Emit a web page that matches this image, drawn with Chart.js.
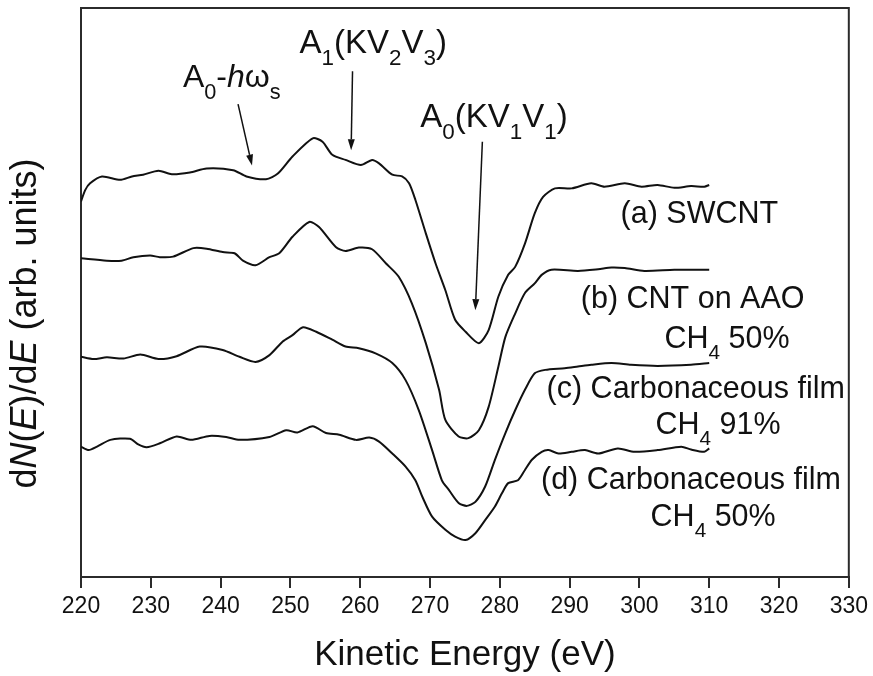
<!DOCTYPE html>
<html>
<head>
<meta charset="utf-8">
<script src="https://cdn.jsdelivr.net/npm/chart.js@4.4.1/dist/chart.umd.min.js"></script>
<style>
  html, body { margin: 0; padding: 0; background: #fff; }
  canvas { display: block; }
</style>
</head>
<body>
<canvas id="myChart" width="873" height="676"></canvas>
<script>
// spectra (kinetic energy in eV, dN/dE in arb. units, curves offset)
const energyA = [220.0, 220.6, 221.3, 223.0, 225.6, 227.3, 228.9, 231.1, 233.0, 235.6, 238.0, 241.8, 243.7, 246.5, 248.2, 250.3, 253.2, 254.6, 256.0, 257.9, 260.1, 261.7, 262.7, 264.6, 266.0, 267.0, 267.9, 269.4, 270.8, 272.2, 273.6, 275.1, 277.0, 278.4, 279.8, 281.2, 282.2, 283.6, 285.0, 286.2, 287.9, 290.3, 293.1, 295.0, 297.9, 300.3, 302.6, 305.0, 307.4, 309.3, 310.0];
const signalA = [66.0, 68.0, 69.2, 70.4, 69.8, 70.4, 70.7, 71.4, 70.8, 71.1, 71.8, 71.5, 70.4, 69.9, 70.9, 73.9, 77.1, 76.5, 74.2, 73.3, 72.4, 73.3, 72.7, 70.7, 70.4, 69.2, 66.3, 60.4, 55.1, 50.4, 45.2, 43.1, 41.1, 43.4, 49.3, 53.1, 54.5, 58.6, 63.9, 66.8, 68.3, 68.3, 69.2, 68.6, 69.2, 68.6, 68.9, 68.4, 68.7, 68.6, 68.9];

const energyB = [220.0, 223.7, 225.8, 227.5, 229.9, 231.3, 233.2, 236.1, 238.0, 240.3, 242.0, 243.2, 245.0, 247.0, 248.4, 250.3, 252.7, 254.1, 256.5, 257.9, 259.8, 261.7, 263.7, 265.5, 267.4, 269.4, 271.3, 272.2, 274.1, 275.5, 277.0, 278.4, 279.8, 280.8, 282.2, 283.6, 285.0, 286.0, 287.4, 291.2, 294.1, 296.0, 297.9, 300.7, 305.0, 310.0];
const signalB = [56.0, 55.6, 55.6, 56.2, 56.5, 56.2, 56.3, 57.8, 57.7, 57.1, 56.9, 55.6, 54.8, 56.2, 56.9, 59.8, 62.4, 61.5, 58.0, 57.3, 57.9, 57.6, 55.1, 52.8, 48.1, 41.1, 32.9, 27.6, 24.7, 24.4, 25.8, 29.9, 37.0, 42.2, 46.3, 49.9, 51.6, 53.1, 54.0, 53.8, 54.1, 54.4, 54.3, 53.8, 54.0, 54.0];

const energyC = [220.0, 221.8, 223.7, 226.1, 228.5, 231.1, 233.7, 237.0, 240.3, 242.7, 245.0, 247.0, 248.9, 250.3, 251.8, 253.7, 256.0, 257.9, 259.8, 262.2, 264.6, 266.5, 268.4, 270.3, 271.7, 272.7, 274.1, 275.3, 276.5, 277.9, 279.3, 280.8, 282.2, 283.6, 285.0, 286.5, 289.3, 291.2, 293.1, 296.0, 298.8, 302.6, 307.4, 310.0];
const signalC = [38.7, 38.3, 38.6, 38.4, 39.1, 38.3, 38.8, 40.5, 39.9, 38.7, 37.8, 39.0, 41.4, 42.5, 43.9, 43.1, 41.7, 40.5, 40.2, 39.3, 37.6, 34.6, 29.3, 22.3, 17.0, 15.3, 13.0, 12.5, 13.2, 15.9, 20.6, 25.3, 29.3, 32.9, 35.8, 36.4, 36.7, 37.0, 37.3, 37.6, 37.3, 37.1, 37.3, 37.6];

const energyD = [220.0, 221.1, 222.3, 224.2, 227.0, 228.2, 229.4, 231.3, 233.7, 235.8, 238.4, 240.8, 242.7, 247.0, 249.4, 251.0, 253.2, 255.1, 257.0, 259.4, 261.3, 262.7, 264.6, 266.5, 267.9, 268.9, 270.3, 272.2, 273.6, 275.1, 276.5, 277.9, 279.3, 280.3, 281.2, 282.6, 283.6, 284.6, 286.0, 287.0, 288.4, 290.3, 292.2, 294.1, 296.9, 299.3, 302.6, 306.0, 307.4, 309.3, 310.0];
const signalD = [22.9, 22.3, 22.9, 24.1, 24.3, 23.3, 22.8, 23.5, 24.7, 24.1, 24.8, 24.6, 24.1, 24.6, 25.8, 25.4, 26.5, 25.3, 25.0, 24.1, 24.5, 23.8, 21.7, 19.4, 17.0, 14.1, 10.6, 8.3, 7.1, 6.5, 7.7, 10.0, 12.4, 14.7, 16.5, 17.0, 18.8, 20.6, 22.0, 22.3, 21.7, 22.0, 22.3, 21.7, 22.6, 22.0, 22.3, 22.9, 22.4, 22.0, 22.6];

const seriesNames = ["(a) SWCNT", "(b) CNT on AAO CH4 50%", "(c) Carbonaceous film CH4 91%", "(d) Carbonaceous film CH4 50%"];

const fontFamily = "'Liberation Sans', Arial, Helvetica, sans-serif";
const ink = "#111";
const axisColor = "#2b2b2b";

function toPoints(xs, ys) {
    const pts = [];
    for (let i = 0; i < Math.min(xs.length, ys.length); i++) pts.push({x: xs[i], y: ys[i]});
    return pts;
}

// labels: parts are [text, style] with style "" | "sub" | "it"
const labels = [
    {x: 234.6, y: 86.1, size: 32, parts: [["A"], ["0", "sub"], ["-"], ["h", "it"], ["\u03c9"], ["s", "sub"]]},
    {x: 251.3, y: 92.1, size: 33, parts: [["A"], ["1", "sub"], ["(KV"], ["2", "sub"], ["V"], ["3", "sub"], [")"]]},
    {x: 268.6, y: 79.1, size: 33, parts: [["A"], ["0", "sub"], ["(KV"], ["1", "sub"], ["V"], ["1", "sub"], [")"]]},
    {x: 297.3, y: 62.2, size: 30.5, parts: [["(a) SWCNT"]]},
    {x: 291.6, y: 47.3, size: 30.5, parts: [["(b) CNT on AAO"]]},
    {x: 303.6, y: 40.2, size: 30.5, parts: [["CH"], ["4", "sub"], [" 50%"]]},
    {x: 286.7, y: 31.5, size: 30.5, parts: [["(c) Carbonaceous film"]]},
    {x: 302.3, y: 25.1, size: 30.5, parts: [["CH"], ["4", "sub"], [" 91%"]]},
    {x: 285.9, y: 15.5, size: 30.5, parts: [["(d) Carbonaceous film"]]},
    {x: 301.6, y: 9.0, size: 30.5, parts: [["CH"], ["4", "sub"], [" 50%"]]}
];

const arrows = [
    {x1: 242.5, y1: 83.1, x2: 244.5, y2: 72.3},
    {x1: 258.9, y1: 88.9, x2: 258.7, y2: 75.0},
    {x1: 277.5, y1: 76.5, x2: 276.5, y2: 46.9}
];

function partFont(style, size) {
    const s = style === "sub" ? size * 0.68 : size;
    return (style === "it" ? "italic " : "") + s + "px " + fontFamily;
}

function drawRich(ctx, parts, x, y, size) {
    let cx = x;
    parts.forEach(function (p) {
        const style = p[1] || "";
        ctx.font = partFont(style, size);
        ctx.fillText(p[0], cx, y + (style === "sub" ? size * 0.36 : 0));
        cx += ctx.measureText(p[0]).width;
    });
    return cx - x;
}

function richWidth(ctx, parts, size) {
    let w = 0;
    parts.forEach(function (p) {
        ctx.font = partFont(p[1] || "", size);
        w += ctx.measureText(p[0]).width;
    });
    return w;
}

const decorPlugin = {
    id: "decor",
    afterDraw(chart) {
        const ctx = chart.ctx;
        const area = chart.chartArea;
        const xs = chart.scales.x, ys = chart.scales.y;
        ctx.save();

        // top and right frame
        ctx.strokeStyle = axisColor;
        ctx.lineWidth = 2;
        ctx.beginPath();
        ctx.moveTo(area.left, area.top);
        ctx.lineTo(area.right, area.top);
        ctx.lineTo(area.right, area.bottom);
        ctx.stroke();

        // arrows
        ctx.strokeStyle = ink;
        ctx.fillStyle = ink;
        ctx.lineWidth = 1.5;
        arrows.forEach(function (a) {
            const x1 = xs.getPixelForValue(a.x1), y1 = ys.getPixelForValue(a.y1);
            const x2 = xs.getPixelForValue(a.x2), y2 = ys.getPixelForValue(a.y2);
            const ang = Math.atan2(y2 - y1, x2 - x1);
            const len = 11, half = 3.5;
            const bx = x2 - len * Math.cos(ang), by = y2 - len * Math.sin(ang);
            ctx.beginPath();
            ctx.moveTo(x1, y1);
            ctx.lineTo(bx, by);
            ctx.stroke();
            ctx.beginPath();
            ctx.moveTo(x2, y2);
            ctx.lineTo(bx + half * Math.sin(ang), by - half * Math.cos(ang));
            ctx.lineTo(bx - half * Math.sin(ang), by + half * Math.cos(ang));
            ctx.closePath();
            ctx.fill();
        });

        // text labels
        ctx.textAlign = "left";
        ctx.textBaseline = "alphabetic";
        labels.forEach(function (l) {
            drawRich(ctx, l.parts, xs.getPixelForValue(l.x), ys.getPixelForValue(l.y), l.size);
        });

        // y axis title with italic N and E
        const yTitle = [["d"], ["N", "it"], ["("], ["E", "it"], [")/d"], ["E", "it"], [" (arb. units)"]];
        const tSize = 36;
        const w = richWidth(ctx, yTitle, tSize);
        ctx.translate(36, (area.top + area.bottom) / 2 + 31);
        ctx.rotate(-Math.PI / 2);
        drawRich(ctx, yTitle, -w / 2, 0, tSize);

        ctx.restore();
    }
};

document.addEventListener("DOMContentLoaded", function () {
    const ctx = document.getElementById("myChart");
    const sets = [[energyA, signalA], [energyB, signalB], [energyC, signalC], [energyD, signalD]];
    new Chart(ctx, {
        type: "line",
        data: {
            datasets: sets.map(function (s, i) {
                return {
                    label: seriesNames[i],
                    data: toPoints(s[0], s[1]),
                    borderColor: ink,
                    borderWidth: 2,
                    pointRadius: 0,
                    tension: 0.25,
                    fill: false
                };
            })
        },
        options: {
            responsive: false,
            animation: false,
            layout: {padding: {top: 8, right: 21, left: 0, bottom: 0}},
            plugins: {legend: {display: false}, tooltip: {enabled: false}},
            scales: {
                x: {
                    type: "linear",
                    min: 220,
                    max: 330,
                    ticks: {stepSize: 10, color: ink, font: {family: fontFamily, size: 23}, padding: 5, maxRotation: 0, autoSkip: false},
                    grid: {drawOnChartArea: false, drawTicks: true, tickLength: 11, color: axisColor, lineWidth: 2},
                    border: {display: true, color: axisColor, width: 2},
                    title: {display: true, text: "Kinetic Energy (eV)", color: ink, font: {family: fontFamily, size: 35}, padding: {top: 0, bottom: 0}},
                    afterFit: function (scale) { scale.height = 99; }
                },
                y: {
                    min: 0,
                    max: 100,
                    ticks: {display: false},
                    grid: {display: false},
                    border: {display: true, color: axisColor, width: 2},
                    afterFit: function (scale) { scale.width = 81; }
                }
            }
        },
        plugins: [decorPlugin]
    });
});
</script>
</body>
</html>
